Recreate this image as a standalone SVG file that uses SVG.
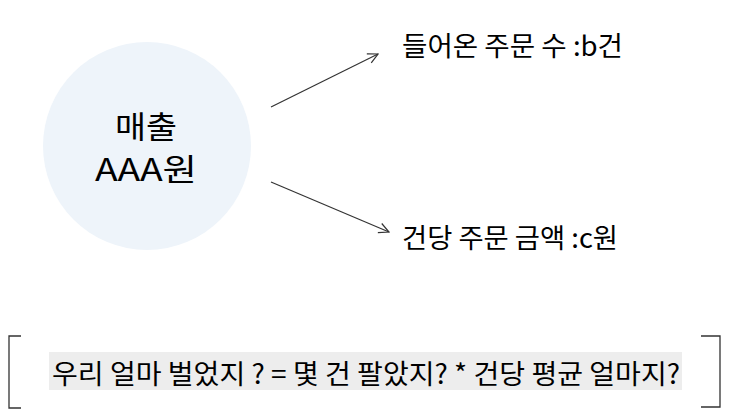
<svg xmlns="http://www.w3.org/2000/svg" width="734" height="413" viewBox="0 0 734 413">
<style>
text{font-family:"Noto Sans CJK KR","Noto Sans",sans-serif;fill:#000}
.lbl{font-size:27px}
.edge{stroke:#333;stroke-width:1.2;fill:none}
.br{stroke:#333;stroke-width:1.3;fill:none}
</style>
<defs>
<marker id="arr" viewBox="0 0 12 12" refX="11" refY="6" markerWidth="12" markerHeight="12" markerUnits="userSpaceOnUse" orient="auto">
<path d="M1,1 L11,6 L1,11" fill="none" stroke="#333" stroke-width="1.2"/>
</marker>
</defs>
<rect width="734" height="413" fill="#fff"/>
<g id="node-sales">
<circle cx="147" cy="146" r="104" fill="#EEF4FA"/>
<text x="146" y="138" font-size="31" text-anchor="middle" textLength="62" lengthAdjust="spacingAndGlyphs">매출</text>
<text x="146" y="181" font-size="31" text-anchor="middle" textLength="102" lengthAdjust="spacingAndGlyphs">AAA원</text>
</g>
<g id="node-orders">
<text class="lbl" x="402" y="56" textLength="221" lengthAdjust="spacingAndGlyphs">들어온 주문 수 :b건</text>
</g>
<g id="node-avg">
<text class="lbl" x="402" y="248" textLength="216" lengthAdjust="spacingAndGlyphs">건당 주문 금액 :c원</text>
</g>
<g id="connectors">
<line class="edge" x1="271" y1="107" x2="378" y2="54" marker-end="url(#arr)"/>
<line class="edge" x1="271" y1="182" x2="389" y2="232" marker-end="url(#arr)"/>
</g>
<g id="summary">
<path class="br" d="M21,336 H9 V408 H21"/>
<path class="br" d="M701,336 H720 V407 H701"/>
<rect x="49" y="352" width="633" height="38" fill="#EDEDED"/>
<text x="52" y="384" font-size="27" textLength="628" lengthAdjust="spacingAndGlyphs">우리 얼마 벌었지 ? = 몇 건 팔았지? * 건당 평균 얼마지?</text>
</g>
</svg>
